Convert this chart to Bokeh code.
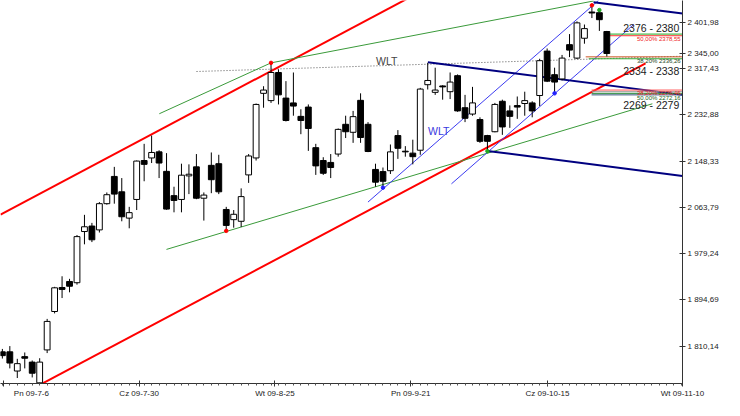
from bokeh.plotting import figure
from bokeh.models import Range1d, FixedTicker, Label, ColumnDataSource
from bokeh.embed import file_html
from bokeh.resources import INLINE

# ---------------- data ----------------
idx = list(range(-1, 81))
opens = [1799.6, 1799.6, 1764.5, 1790.8, 1780.8, 1742.9, 1803.1, 1873.3, 1917.2, 1928.2,
         1925.9, 2019.5, 2029.5, 2022.5, 2070.4, 2120.2, 2092.1, 2044.0, 2078.1, 2149.3,
         2154.0, 2165.1, 2129.5, 2085.1, 2078.1, 2121.2, 2137.7, 2080.4, 2140.5, 2143.5,
         2059.8, 2041.2, 2038.2, 2123.0, 2154.0, 2272.1, 2258.8, 2310.2, 2263.4, 2254.6,
         2230.0, 2247.0, 2172.8, 2149.3, 2145.8, 2161.1, 2215.5, 2200.9, 2259.3, 2215.5,
         2133.0, 2129.0, 2130.7, 2194.9, 2166.3, 2162.8, 2168.1, 2287.9, 2273.9, 2285.6,
         2275.1, 2304.4, 2245.8, 2234.2, 2224.2, 2194.9, 2201.9, 2257.6, 2240.0, 2249.7,
         2253.5, 2254.6, 2268.1, 2349.3, 2306.2, 2298.4, 2361.1, 2336.5, 2372.8, 2420.7,
         2419.5, 2385.1]
highs = [1804.9, 1810.1, 1786.8, 1798.4, 1783.8, 1787.9, 1859.8, 1918.4, 1937.7, 1933.0,
         2013.1, 2050.0, 2035.3, 2073.3, 2090.9, 2137.7, 2117.2, 2064.6, 2149.3, 2179.8,
         2194.9, 2168.1, 2162.8, 2101.4, 2143.5, 2142.3, 2161.1, 2090.9, 2164.0, 2159.8,
         2064.6, 2058.8, 2098.4, 2161.1, 2253.5, 2285.1, 2327.8, 2316.0, 2294.4, 2310.2,
         2243.0, 2251.8, 2179.8, 2155.3, 2161.1, 2207.9, 2231.2, 2240.0, 2272.1, 2219.5,
         2143.5, 2136.5, 2178.6, 2204.9, 2175.6, 2187.4, 2282.1, 2327.8, 2319.0, 2286.9,
         2310.2, 2306.7, 2269.3, 2283.9, 2228.3, 2196.2, 2254.6, 2260.5, 2250.0, 2266.3,
         2275.1, 2257.6, 2335.3, 2354.1, 2319.0, 2342.3, 2380.4, 2403.7, 2397.9, 2433.0,
         2424.3, 2386.2]
lows = [1787.3, 1769.3, 1751.7, 1769.3, 1752.8, 1742.0, 1797.3, 1869.8, 1897.9, 1908.4,
        1922.4, 1996.1, 2000.2, 2017.7, 2068.6, 2070.4, 2038.2, 2025.4, 2058.8, 2111.4,
        2144.7, 2117.2, 2059.3, 2054.6, 2054.6, 2087.9, 2078.6, 2039.5, 2089.6, 2087.9,
        2020.7, 2026.5, 2027.7, 2108.4, 2149.3, 2245.8, 2254.6, 2251.8, 2220.7, 2231.2,
        2197.4, 2166.9, 2123.0, 2123.0, 2117.2, 2156.3, 2190.4, 2181.6, 2181.6, 2164.6,
        2101.4, 2099.7, 2124.7, 2152.3, 2156.3, 2142.3, 2159.8, 2279.1, 2269.3, 2260.5,
        2261.6, 2238.3, 2219.5, 2231.2, 2181.6, 2166.3, 2200.9, 2196.2, 2209.0, 2225.5,
        2231.2, 2228.3, 2248.8, 2292.7, 2272.1, 2295.6, 2338.3, 2334.8, 2362.8, 2409.7,
        2386.2, 2339.5]
closes = [1792.6, 1779.1, 1778.0, 1787.9, 1760.5, 1780.8, 1855.2, 1916.6, 1913.7, 1919.5,
          2010.2, 2028.2, 2004.4, 2070.4, 2086.8, 2087.9, 2046.5, 2054.0, 2148.3, 2142.3,
          2164.0, 2144.7, 2060.5, 2076.3, 2122.5, 2124.2, 2080.4, 2086.1, 2114.2, 2092.1,
          2030.7, 2051.0, 2083.3, 2157.6, 2251.8, 2278.1, 2310.2, 2269.3, 2222.5, 2248.8,
          2222.5, 2207.9, 2139.5, 2126.0, 2136.5, 2206.2, 2201.9, 2229.5, 2191.4, 2165.8,
          2109.7, 2111.4, 2165.1, 2171.6, 2165.1, 2156.3, 2279.9, 2295.6, 2278.1, 2283.9,
          2292.7, 2240.0, 2226.5, 2254.6, 2184.4, 2184.4, 2251.8, 2210.7, 2230.0, 2247.0,
          2258.8, 2240.0, 2331.8, 2294.4, 2292.7, 2336.5, 2351.1, 2400.9, 2390.4, 2419.0,
          2406.7, 2345.0]

x_ticks = [-0.9, 17.33, 35.53, 53.72, 72.05, 90.14]
x_labels = ["Pn 09-7-6", "Cz 09-7-30", "Wt 09-8-25", "Pn 09-9-21", "Cz 09-10-15", "Wt 09-11-10"]
y_ticks = [1810.14, 1894.69, 1979.24, 2063.79, 2148.33, 2232.88, 2317.43, 2401.98]
y_labels = ["1 810,14", "1 894,69", "1 979,24", "2 063,79", "2 148,33", "2 232,88", "2 317,43", "2 401,98"]
last_price = 2345.0
last_label = "2 345,00"

# trend lines: x points, y points
red_upper = ([-1.25, 54.0], [2050.5, 2450.5])
red_lower = ([3.08, 85.19], [1732.4, 2326.9])
green_upper = ([20.03, 35.0, 78.22], [2234.8, 2327.8, 2440.9])
green_lower = ([20.99, 86.1], [1986.8, 2253.0])
blue_upper = ([47.99, 78.87], [2073.3, 2441.8])
blue_lower = ([59.18, 83.6], [2106.7, 2397.9])
navy_mid = ([56.02, 90.14], [2329.0, 2269.3])
navy_top = ([78.22, 90.14], [2438.8, 2417.9])
navy_bot = ([64.0, 90.14], [2166.8, 2121.0])
wlt_dotted = ([25.02, 90.14], [2312.0, 2340.0])

# fibonacci zone levels: start index, level, colour
fib_start = [79.93, 79.93, 77.17, 77.57, 77.96, 77.96, 77.96, 77.96]
fib_level = [2380.4, 2377.4, 2338.8, 2335.3, 2278.1, 2275.1, 2272.1, 2269.3]
fib_color = ["#22aa22", "#ff3333", "#cc5522", "#33aa33", "#ff5555", "#999999", "#228833", "#335577"]

zone_labels = ["2376 - 2380", "2334 - 2338", "2269 - 2279"]
zone_label_y = [2390.9, 2313.7, 2250.6]
fib_texts = ["50,00% 2378,55", "38,20% 2336,26", "38,20% 2276,46", "50,00% 2272,16"]
fib_text_y = [2371.6, 2330.4, 2272.5, 2263.7]
fib_text_col = ["#ee2222", "#224422", "#ee2222", "#226622"]

# pivot dots: candle index, use high?, colour
dot_idx = [35, 78, 79, 64, 50, 73, 29]
dot_high = [True, True, True, False, False, False, False]
dot_col = ["#ff0000", "#ff0000", "#22aa22", "#22aa22", "#2222ff", "#2222ff", "#ff0000"]

FONT = "Liberation Sans"

p = figure(width=724, height=400, output_backend="svg", toolbar_location=None,
           x_range=Range1d(-1.25, 90.14), y_range=Range1d(1741.7, 2441.8),
           y_axis_location="right", min_border_left=0, min_border_top=0,
           min_border_right=42, min_border_bottom=0)
p.xgrid.visible = False
p.ygrid.visible = False
p.outline_line_color = None
p.background_fill_color = "white"

# axes
p.xaxis.ticker = FixedTicker(ticks=x_ticks, minor_ticks=[i for i in range(-1, 91)])
lbls = list(x_labels)
lbls[0] = "\u00a0" * 6 + lbls[0]
p.xaxis.major_label_overrides = {t: l for t, l in zip(x_ticks, lbls)}
all_y_ticks = y_ticks + [last_price]
all_y_labels = y_labels + [last_label]
p.yaxis.ticker = FixedTicker(ticks=all_y_ticks, minor_ticks=[])
p.yaxis.major_label_overrides = {t: l for t, l in zip(all_y_ticks, all_y_labels)}
for ax in (p.xaxis[0], p.yaxis[0]):
    ax.major_label_text_font = FONT
    ax.major_label_text_font_size = "8px"
    ax.major_label_text_color = "#222222"
    ax.axis_line_color = "#333333"
    ax.major_tick_line_color = "#333333"
    ax.major_tick_in = 3
    ax.major_tick_out = 3
    ax.major_label_standoff = 2
p.xaxis.minor_tick_in = 0
p.xaxis.minor_tick_out = 2
p.xaxis.minor_tick_line_color = "#555555"
p.yaxis.minor_tick_line_color = None

# trend lines
def seg(line, color, width, dash="solid"):
    p.line(line[0], line[1], line_color=color, line_width=width, line_dash=dash)

seg(wlt_dotted, "#555555", 1, "1 2")
seg(red_upper, "#ff0000", 2)
seg(red_lower, "#ff0000", 2)
seg(green_upper, "#3a9a3a", 1)
seg(green_lower, "#3a9a3a", 1)
seg(blue_upper, "#3c3cf0", 1)
seg(blue_lower, "#3c3cf0", 1)
seg(navy_mid, "#000080", 2)
seg(navy_top, "#000080", 2)
seg(navy_bot, "#000080", 2)

fsrc = ColumnDataSource(dict(x0=fib_start, x1=[90.14] * len(fib_start), y=fib_level, c=fib_color))
p.segment("x0", "y", "x1", "y", source=fsrc, line_color="c", line_width=1)

# candles
src = ColumnDataSource(dict(
    x=idx, h=highs, l=lows,
    top=[max(o, c) for o, c in zip(opens, closes)],
    bot=[min(o, c) for o, c in zip(opens, closes)],
    fill=["white" if c >= o else "black" for o, c in zip(opens, closes)]))
p.segment("x", "h", "x", "l", source=src, line_color="black", line_width=1)
p.vbar(x="x", width=0.78, top="top", bottom="bot", source=src,
       fill_color="fill", line_color="black", line_width=1)

# pivot dots
dsrc = ColumnDataSource(dict(
    x=dot_idx,
    y=[highs[i + 1] if hi else lows[i + 1] for i, hi in zip(dot_idx, dot_high)],
    c=dot_col))
p.scatter("x", "y", source=dsrc, size=3.5, fill_color="c", line_color="c")

# texts
for t, y in zip(zone_labels, zone_label_y):
    p.add_layout(Label(x=82.2, y=y, text=t, text_font=FONT, text_font_size="10.5px",
                       text_color="#222222", text_baseline="middle", text_align="left"))
for t, y, c in zip(fib_texts, fib_text_y, fib_text_col):
    p.add_layout(Label(x=89.9, y=y, text=t, text_font=FONT, text_font_size="6px",
                       text_color=c, text_baseline="middle", text_align="right"))
p.add_layout(Label(x=50.5, y=2331.3, text="WLT", text_font=FONT, text_font_size="10.5px",
                   text_color="#444444", text_baseline="middle", text_align="center"))
p.add_layout(Label(x=57.47, y=2203.2, text="WLT", text_font=FONT, text_font_size="10.5px",
                   text_color="#3a3ae0", text_baseline="middle", text_align="center"))

open("out.html", "w").write(file_html(p, INLINE))
